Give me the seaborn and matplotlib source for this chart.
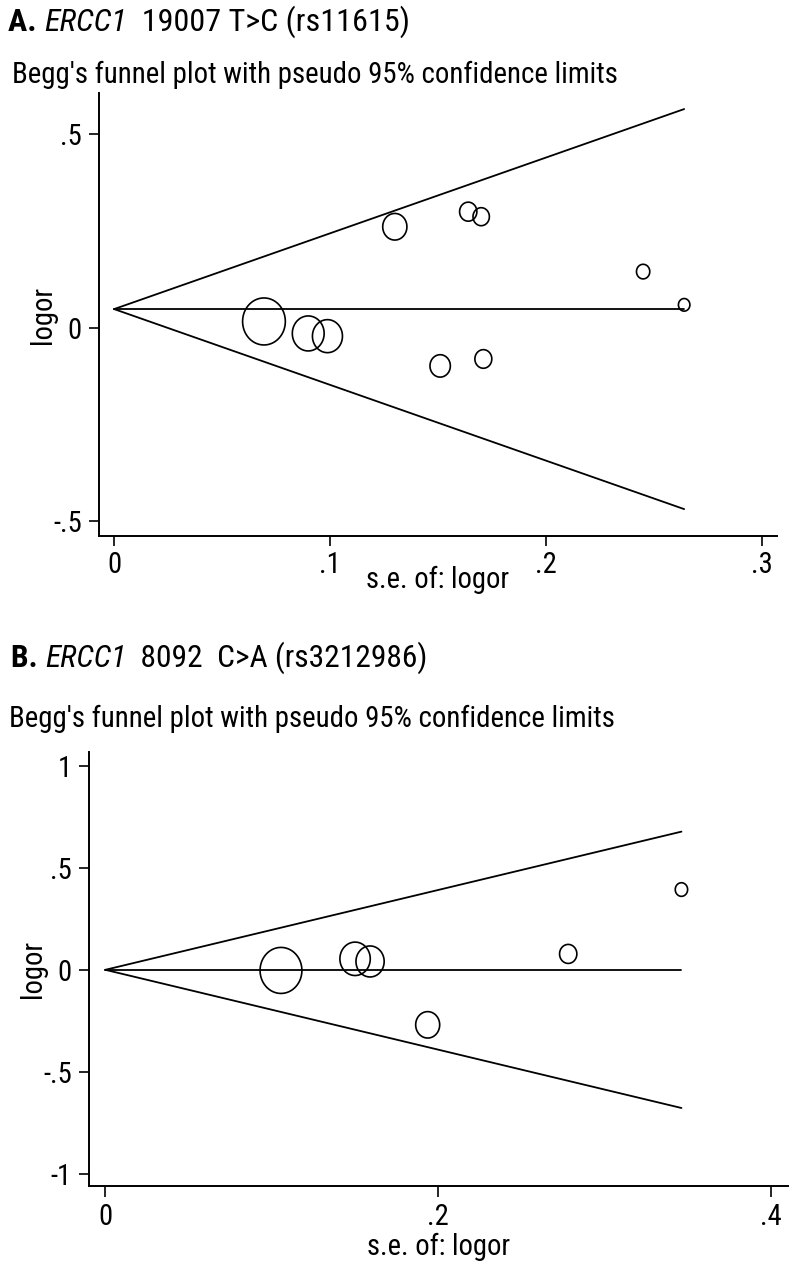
import numpy as np
import pandas as pd
import matplotlib
matplotlib.use("Agg")
import matplotlib.pyplot as plt
from matplotlib.path import Path
from matplotlib import font_manager as fm
import seaborn as sns

# ---------------- data ----------------
# Panel A: ERCC1 19007 T>C (rs11615)
a_se = [0.0694, 0.0899, 0.0988, 0.130, 0.164, 0.170, 0.151, 0.171, 0.245, 0.264]
a_logor = [0.016, -0.015, -0.022, 0.261, 0.300, 0.287, -0.099, -0.081, 0.145, 0.059]
a_radius = [23.5, 17.5, 16.5, 13.3, 9.5, 9.0, 11.2, 9.3, 7.3, 6.3]   # bubble size (px)
a_pooled = 0.048
a_xticks = [0, 0.1, 0.2, 0.3]
a_xticklabels = ["0", ".1", ".2", ".3"]
a_yticks = [-0.5, 0, 0.5]
a_yticklabels = ["-.5", "0", ".5"]

# Panel B: ERCC1 8092 C>A (rs3212986)
b_se = [0.1055, 0.150, 0.159, 0.1936, 0.278, 0.346]
b_logor = [-0.003, 0.054, 0.041, -0.270, 0.078, 0.394]
b_radius = [23.0, 16.7, 15.5, 13.2, 9.5, 6.8]
b_pooled = 0.0
b_xticks = [0, 0.2, 0.4]
b_xticklabels = ["0", ".2", ".4"]
b_yticks = [-1, -0.5, 0, 0.5, 1]
b_yticklabels = ["-1", "-.5", "0", ".5", "1"]

subtitle = "Begg's funnel plot with pseudo 95% confidence limits"
xlab = "s.e. of: logor"
ylab = "logor"

# ---------------- style ----------------
sns.set_style("white")
installed = {f.name for f in fm.fontManager.ttflist}
main_font = next((f for f in ["Liberation Sans Narrow", "Roboto Condensed", "Liberation Sans"]
                  if f in installed), "DejaVu Sans")
plt.rcParams["font.family"] = [main_font, "DejaVu Sans"]
for k in ("text.color", "axes.labelcolor", "xtick.color", "ytick.color", "axes.edgecolor"):
    plt.rcParams[k] = "black"

W, H, DPI = 793, 1264, 100
fig = plt.figure(figsize=(W / DPI, H / DPI), dpi=DPI)
renderer = fig.canvas.get_renderer()


def fit_size(txt, target_px, **kw):
    t = fig.text(0, 0, txt, fontsize=20, **kw)
    w = t.get_window_extent(renderer=renderer).width
    t.remove()
    return 20 * target_px / w


sub_size = fit_size(subtitle, 604)
lab_size = fit_size(xlab, 143)
tick_size = lab_size

theta = np.linspace(0, 2 * np.pi, 120)
ell = Path(np.column_stack([np.cos(theta) / 1.1, np.sin(theta)]), closed=True)
PX2PT = 72.0 / DPI


def px_rect(l, t, r, b):
    return [l / W, 1 - b / H, (r - l) / W, (b - t) / H]


def funnel(ax, se, logor, radius, pooled, xlim, ylim, xt, xtl, yt, ytl,
           xlabelpad, ticklen_x):
    se_max = max(se)
    fx = [0, se_max]
    for sign in (1, -1):
        sns.lineplot(x=fx, y=[pooled, pooled + sign * 1.96 * se_max], ax=ax,
                     color="black", lw=1.3, sort=False)
    sns.lineplot(x=fx, y=[pooled, pooled], ax=ax, color="black", lw=1.3, sort=False)
    sizes = [(2 * r * PX2PT) ** 2 for r in radius]
    df = pd.DataFrame({"se": se, "logor": logor})
    sns.scatterplot(data=df, x="se", y="logor", s=sizes, marker=ell,
                    edgecolor="black", linewidth=1.2, ax=ax, zorder=3)
    ax.collections[-1].set_facecolor("none")
    ax.set_xlim(*xlim)
    ax.set_ylim(*ylim)
    ax.set_xticks(xt)
    ax.set_xticklabels(xtl)
    ax.set_yticks(yt)
    ax.set_yticklabels(ytl)
    ax.set_xlabel(xlab, fontsize=lab_size, labelpad=xlabelpad)
    ax.set_ylabel(ylab, fontsize=lab_size, labelpad=-3)
    sns.despine(ax=ax)
    for s in ("left", "bottom"):
        ax.spines[s].set_linewidth(1.4)
        ax.spines[s].set_color("black")
    ax.tick_params(axis="both", direction="out", width=1.2, color="black",
                   labelsize=tick_size, left=True, bottom=True)
    ax.tick_params(axis="y", pad=5, length=7.5)
    ax.tick_params(axis="x", pad=4, length=ticklen_x)
    ax.set_facecolor("white")


axA = fig.add_axes(px_rect(99, 93, 777, 536))
funnel(axA, a_se, a_logor, a_radius, a_pooled, (-0.0070, 0.307), (-0.539, 0.607),
       a_xticks, a_xticklabels, a_yticks, a_yticklabels, xlabelpad=-9.5, ticklen_x=7)

axB = fig.add_axes(px_rect(89, 752, 788, 1186))
funnel(axB, b_se, b_logor, b_radius, b_pooled, (-0.0098, 0.41), (-1.061, 1.069),
       b_xticks, b_xticklabels, b_yticks, b_yticklabels, xlabelpad=1.5, ticklen_x=8)


# ---------------- titles ----------------
def rich_title(x_px, base_px, parts, target_w):
    # fit the whole title to its measured width
    size = 20
    tot = 0
    for txt, weight, style in parts:
        t = fig.text(0, 0, txt, fontsize=size, fontweight=weight, fontstyle=style)
        tot += t.get_window_extent(renderer=renderer).width
        t.remove()
    size = size * target_w / tot
    x = x_px
    for txt, weight, style in parts:
        t = fig.text(x / W, 1 - base_px / H, txt, fontsize=size, fontweight=weight,
                     fontstyle=style, va="baseline", ha="left")
        x += t.get_window_extent(renderer=renderer).width


rich_title(8, 31, [("A. ", "bold", "normal"), ("ERCC1", "normal", "italic"),
                   ("  19007 T>C (rs11615)", "normal", "normal")], 400)
fig.text(12 / W, 1 - 83 / H, subtitle, fontsize=sub_size, va="baseline", ha="left")

rich_title(11, 667, [("B. ", "bold", "normal"), ("ERCC1", "normal", "italic"),
                     ("  8092  C>A (rs3212986)", "normal", "normal")], 416)
fig.text(9 / W, 1 - 727 / H, subtitle, fontsize=sub_size, va="baseline", ha="left")

fig.savefig("out.png", dpi=DPI, facecolor="white")
